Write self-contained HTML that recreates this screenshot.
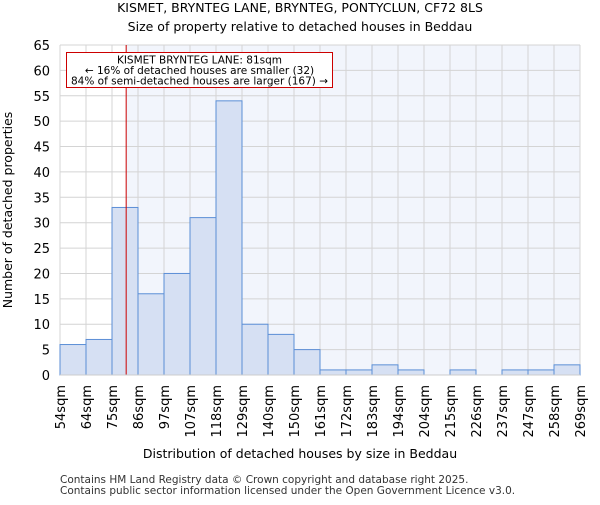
<!DOCTYPE html>
<html><head><meta charset="utf-8"><style>
body{margin:0;background:#fff;}
svg{font-family:"DejaVu Sans","Liberation Sans",sans-serif;}
</style></head><body>
<svg id="chart" width="600" height="500">
<text x="300" y="12" text-anchor="middle" font-size="12.5">KISMET, BRYNTEG LANE, BRYNTEG, PONTYCLUN, CF72 8LS</text>
<text x="300" y="31" text-anchor="middle" font-size="12.5">Size of property relative to detached houses in Beddau</text>
<g id="plot"></g>
<text x="300" y="458" text-anchor="middle" font-size="12.5">Distribution of detached houses by size in Beddau</text>
<text transform="translate(12,210) rotate(-90)" text-anchor="middle" font-size="12.5">Number of detached properties</text>
<text x="60" y="483" font-size="10.5" fill="#333">Contains HM Land Registry data © Crown copyright and database right 2025.</text>
<text x="60" y="494" font-size="10.5" fill="#333">Contains public sector information licensed under the Open Government Licence v3.0.</text>
</svg>
<script>
const binLabels=["54sqm","64sqm","75sqm","86sqm","97sqm","107sqm","118sqm","129sqm","140sqm","150sqm","161sqm","172sqm","183sqm","194sqm","204sqm","215sqm","226sqm","237sqm","247sqm","258sqm","269sqm"];
const counts=[6,7,33,16,20,31,54,10,8,5,1,1,2,1,0,1,0,1,1,2];
const yTicks=[0,5,10,15,20,25,30,35,40,45,50,55,60,65];
const markerIndex=2.545;
const NS="http://www.w3.org/2000/svg";
const L=60,R=580,T=45,B=375,yMax=65;
const n=counts.length;
const bw=(R-L)/n;
const xs=i=>L+i*bw;
const ys=v=>B-(v/yMax)*(B-T);
const g=document.getElementById('plot');
function mk(tag,attrs){const e=document.createElementNS(NS,tag);for(const k in attrs)e.setAttribute(k,attrs[k]);g.appendChild(e);return e;}
const mx=xs(markerIndex);
let e=mk('rect',{x:mx,y:T,width:R-mx,height:B-T,fill:'#f2f5fc'});


yTicks.forEach(t=>{
  let l=mk('line',{x1:L,x2:R,y1:ys(t),y2:ys(t),stroke:'#d4d4d4','stroke-width':1});
  
  
  let tx=mk('text',{x:L-10,y:ys(t)+5,'text-anchor':'end','font-size':13});
  tx.textContent=t;
  
  
});
for(let i=0;i<=n;i++){
  let l=mk('line',{x1:xs(i),x2:xs(i),y1:T,y2:B,stroke:'#d4d4d4','stroke-width':1});
  
  
}
counts.forEach((c,i)=>{
  if(c<=0)return;
  let r=mk('rect',{x:xs(i),y:ys(c),width:bw,height:B-ys(c),fill:'#d6e0f3',stroke:'#5b8ed6','stroke-width':1});
  
  
});
binLabels.forEach((lab,i)=>{
  let t=mk('text',{transform:`translate(${xs(i)+5},385) rotate(-90)`,'text-anchor':'end','font-size':13});
  t.textContent=lab;
  
  
});
let ml=mk('line',{x1:mx,x2:mx,y1:T,y2:B,stroke:'#cc0000','stroke-width':1});


let ab=mk('rect',{x:66.5,y:52.5,width:266,height:35,fill:'#fff',stroke:'#cc0000','stroke-width':1});


["KISMET BRYNTEG LANE: 81sqm","← 16% of detached houses are smaller (32)","84% of semi-detached houses are larger (167) →"].forEach((s,k)=>{
  let t=mk('text',{x:199.5,y:63.5+k*10.5,'text-anchor':'middle','font-size':10.5});
  t.textContent=s;
  
  
});
let ax=mk('line',{x1:L,x2:R,y1:B,y2:B,stroke:'#cccccc','stroke-width':1});


</script>
</body></html>
